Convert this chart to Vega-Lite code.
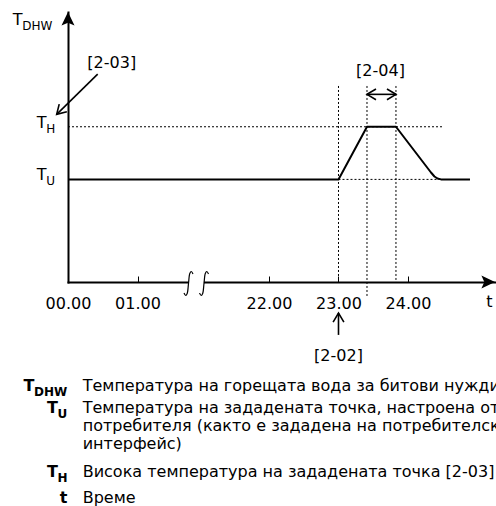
{
  "$schema": "https://vega.github.io/schema/vega-lite/v6.json",
  "width": 427,
  "height": 270,
  "autosize": {"type": "none"},
  "padding": {"left": 68, "top": 12, "right": 1, "bottom": 224},
  "background": "white",
  "config": {
    "view": {"stroke": null},
    "font": "DejaVu Sans",
    "text": {"font": "DejaVu Sans", "fontSize": 16, "color": "black", "baseline": "alphabetic"}
  },
  "datasets": {
    "guides": [
      {"name": "T_H level", "t": 0, "t2": 24.504, "temp": 57.5, "temp2": 57.5},
      {"name": "T_U level", "t": 23.0, "t2": 24.475, "temp": 38, "temp2": 38},
      {"name": "start 23.00", "t": 23.0, "t2": 23.0, "temp": 72.6, "temp2": 0},
      {"name": "T_H reached", "t": 23.41, "t2": 23.41, "temp": 72.6, "temp2": -5.2},
      {"name": "heating end", "t": 23.827, "t2": 23.827, "temp": 72.6, "temp2": 0}
    ],
    "gap": [
      {"t": 9.17, "t2": 11.6, "temp": 0, "temp2": 0}
    ],
    "breaks": [
      {"id": "a", "order": 1, "t": 9.863, "temp": 2.96},
      {"id": "a", "order": 2, "t": 9.592, "temp": 3.89},
      {"id": "a", "order": 3, "t": 9.352, "temp": 3.15},
      {"id": "a", "order": 4, "t": 9.144, "temp": -0.56},
      {"id": "a", "order": 5, "t": 8.937, "temp": -4.26},
      {"id": "a", "order": 6, "t": 8.697, "temp": -5.0},
      {"id": "a", "order": 7, "t": 8.426, "temp": -4.07},
      {"id": "b", "order": 1, "t": 12.338, "temp": 2.96},
      {"id": "b", "order": 2, "t": 12.067, "temp": 3.89},
      {"id": "b", "order": 3, "t": 11.827, "temp": 3.15},
      {"id": "b", "order": 4, "t": 11.619, "temp": -0.56},
      {"id": "b", "order": 5, "t": 11.412, "temp": -4.26},
      {"id": "b", "order": 6, "t": 11.172, "temp": -5.0},
      {"id": "b", "order": 7, "t": 10.901, "temp": -4.07}
    ],
    "curve": [
      {"order": 1, "t": 0, "temp": 38},
      {"order": 2, "t": 23.0, "temp": 38},
      {"order": 3, "t": 23.41, "temp": 57.5},
      {"order": 4, "t": 23.827, "temp": 57.5},
      {"order": 5, "t": 24.331, "temp": 40.56},
      {"order": 6, "t": 24.381, "temp": 39.07},
      {"order": 7, "t": 24.424, "temp": 38.33},
      {"order": 8, "t": 24.475, "temp": 38},
      {"order": 9, "t": 24.892, "temp": 38}
    ],
    "pointers": [
      {"label": "[2-03]", "t": 0.427, "temp": 77.0, "t2": -0.163, "temp2": 62.1},
      {"label": "[2-02]", "t": 23.0, "temp": -19.6, "t2": 23.0, "temp2": -11.5},
      {"label": "[2-04]", "t": 23.41, "temp": 69.5, "t2": 23.827, "temp2": 69.5}
    ],
    "heads": [
      {"t": -0.163, "temp": 62.1, "dir": "down-left"},
      {"t": 23.0, "temp": -11.5, "dir": "up"},
      {"t": 23.41, "temp": 69.5, "dir": "left"},
      {"t": 23.827, "temp": 69.5, "dir": "right"},
      {"t": 0, "temp": 100, "dir": "axis-up"},
      {"t": 25.252, "temp": 0, "dir": "axis-right"}
    ],
    "axisSymbols": [
      {"main": "T", "sub": "DHW", "t": -0.796, "temp": 95.2},
      {"main": "T", "sub": "H", "t": -0.45, "temp": 56.9},
      {"main": "T", "sub": "U", "t": -0.45, "temp": 37.8}
    ],
    "labels": [
      {"text": "[2-03]", "t": 0.629, "temp": 79.1},
      {"text": "[2-04]", "t": 23.604, "temp": 76.3},
      {"text": "[2-02]", "t": 23.0, "temp": -29.15},
      {"text": "t", "t": 25.17, "temp": -9.15}
    ],
    "legendSymbols": [
      {"main": "T", "sub": "DHW", "t": -0.64, "temp": -40.37},
      {"main": "T", "sub": "U", "t": -0.302, "temp": -48.41},
      {"main": "T", "sub": "H", "t": -0.302, "temp": -72.2},
      {"main": "t", "sub": "", "t": -0.12, "temp": -82.0}
    ],
    "legendText": [
      {"text": "Температура на горещата вода за битови нужди (БГВ)", "t": 0.2115, "temp": -40.37},
      {"text": "Температура на зададената точка, настроена от", "t": 0.2115, "temp": -48.41},
      {"text": "потребителя (както е зададена на потребителския", "t": 0.2115, "temp": -55.0},
      {"text": "интерфейс)", "t": 0.2115, "temp": -61.96},
      {"text": "Висока температура на зададената точка [2-03]", "t": 0.2115, "temp": -72.2},
      {"text": "Време", "t": 0.2115, "temp": -82.0}
    ]
  },
  "encoding": {
    "x": {
      "field": "t",
      "type": "quantitative",
      "scale": {"domain": [0, 1, 22, 25.252], "range": [0, 69.5, 201, 427], "nice": false, "zero": false},
      "axis": {
        "title": null,
        "values": [0, 1, 22, 23, 24],
        "labelExpr": "format(datum.value, '02d') + '.00'",
        "grid": false,
        "tickSize": -6,
        "tickWidth": 1,
        "tickColor": "black",
        "domainWidth": 2,
        "domainColor": "black",
        "domainCap": "square",
        "labelFont": "DejaVu Sans",
        "labelFontSize": 16,
        "labelColor": "black",
        "labelBaseline": "alphabetic",
        "labelPadding": 32.5,
        "labelFlush": false,
        "labelOverlap": false
      }
    },
    "y": {
      "field": "temp",
      "type": "quantitative",
      "scale": {"domain": [0, 100], "nice": false, "zero": false},
      "axis": {
        "title": null,
        "labels": false,
        "ticks": false,
        "grid": false,
        "domainWidth": 2,
        "domainColor": "black",
        "domainCap": "square"
      }
    }
  },
  "layer": [
    {
      "data": {"name": "guides"},
      "mark": {"type": "rule", "strokeDash": [2, 2], "strokeWidth": 1, "color": "black"},
      "encoding": {"x2": {"field": "t2"}, "y2": {"field": "temp2"}}
    },
    {
      "data": {"name": "gap"},
      "mark": {"type": "rule", "strokeWidth": 5, "color": "white"},
      "encoding": {"x2": {"field": "t2"}, "y2": {"field": "temp2"}}
    },
    {
      "data": {"name": "breaks"},
      "mark": {"type": "line", "interpolate": "catmull-rom", "strokeWidth": 1.2, "color": "black"},
      "encoding": {"detail": {"field": "id"}, "order": {"field": "order", "type": "quantitative"}}
    },
    {
      "data": {"name": "curve"},
      "mark": {"type": "line", "strokeWidth": 2, "color": "black", "strokeJoin": "round"},
      "encoding": {"order": {"field": "order", "type": "quantitative"}}
    },
    {
      "data": {"name": "pointers"},
      "mark": {"type": "rule", "strokeWidth": 1.6, "color": "black"},
      "encoding": {"x2": {"field": "t2"}, "y2": {"field": "temp2"}}
    },
    {
      "data": {"name": "heads"},
      "transform": [{"filter": "datum.dir === 'up'"}],
      "mark": {"type": "point", "shape": "M-0.6,1L0,0L0.6,1", "filled": false, "size": 324, "strokeWidth": 1.6, "color": "black", "opacity": 1, "angle": 0}
    },
    {
      "data": {"name": "heads"},
      "transform": [{"filter": "datum.dir === 'right'"}],
      "mark": {"type": "point", "shape": "M-0.6,1L0,0L0.6,1", "filled": false, "size": 324, "strokeWidth": 1.6, "color": "black", "opacity": 1, "angle": 90}
    },
    {
      "data": {"name": "heads"},
      "transform": [{"filter": "datum.dir === 'down-left'"}],
      "mark": {"type": "point", "shape": "M-0.6,1L0,0L0.6,1", "filled": false, "size": 324, "strokeWidth": 1.6, "color": "black", "opacity": 1, "angle": 225}
    },
    {
      "data": {"name": "heads"},
      "transform": [{"filter": "datum.dir === 'left'"}],
      "mark": {"type": "point", "shape": "M-0.6,1L0,0L0.6,1", "filled": false, "size": 324, "strokeWidth": 1.6, "color": "black", "opacity": 1, "angle": 270}
    },
    {
      "data": {"name": "heads"},
      "transform": [{"filter": "datum.dir === 'axis-up'"}],
      "mark": {"type": "point", "shape": "M0,0L0.55,1.15L0,0.9L-0.55,1.15Z", "filled": true, "size": 560, "strokeWidth": 0, "color": "black", "opacity": 1, "angle": 0}
    },
    {
      "data": {"name": "heads"},
      "transform": [{"filter": "datum.dir === 'axis-right'"}],
      "mark": {"type": "point", "shape": "M0,0L0.55,1.15L0,0.9L-0.55,1.15Z", "filled": true, "size": 560, "strokeWidth": 0, "color": "black", "opacity": 1, "angle": 90}
    },
    {
      "data": {"name": "axisSymbols"},
      "mark": {"type": "text", "align": "left", "fontSize": 16},
      "encoding": {"text": {"field": "main"}}
    },
    {
      "data": {"name": "axisSymbols"},
      "mark": {"type": "text", "align": "left", "fontSize": 12, "dx": 9.5, "dy": 5},
      "encoding": {"text": {"field": "sub"}}
    },
    {
      "data": {"name": "labels"},
      "mark": {"type": "text", "align": "center", "fontSize": 16},
      "encoding": {"text": {"field": "text"}}
    },
    {
      "data": {"name": "legendSymbols"},
      "mark": {"type": "text", "align": "left", "fontSize": 16, "fontWeight": "bold"},
      "encoding": {"text": {"field": "main"}}
    },
    {
      "data": {"name": "legendSymbols"},
      "mark": {"type": "text", "align": "left", "fontSize": 12, "fontWeight": "bold", "dx": 10.5, "dy": 5},
      "encoding": {"text": {"field": "sub"}}
    },
    {
      "data": {"name": "legendText"},
      "mark": {"type": "text", "align": "left", "fontSize": 16},
      "encoding": {"text": {"field": "text"}}
    }
  ]
}
